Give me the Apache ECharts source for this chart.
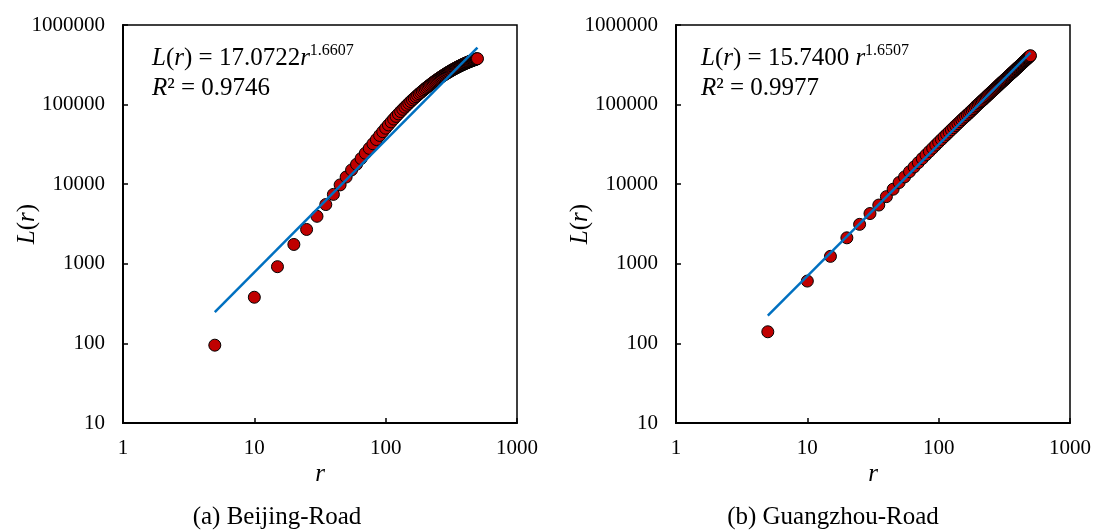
<!DOCTYPE html>
<html>
<head>
<meta charset="utf-8">
<script src="https://cdn.jsdelivr.net/npm/echarts@6/dist/echarts.min.js"></script>
<style>
html, body { margin: 0; padding: 0; background: #fff; }
#chart { width: 1094px; height: 531px; }
</style>
</head>
<body>
<div id="chart"></div>
<script>
// r 取值 (步长 5)
const radius = [5,10,15,20,25,30,35,40,45,50,55,60,65,70,75,80,85,90,95,100,
  105,110,115,120,125,130,135,140,145,150,155,160,165,170,175,180,185,190,195,200,
  205,210,215,220,225,230,235,240,245,250,255,260,265,270,275,280,285,290,295,300,
  305,310,315,320,325,330,335,340,345,350,355,360,365,370,375,380,385,390,395,400,
  405,410,415,420,425,430,435,440,445,450,455,460,465,470,475,480,485,490,495,500];

// (a) Beijing-Road
const beijingL = [95,380,920,1750,2700,3950,5550,7450,9800,12300,15100,17800,21000,24500,28200,32200,36400,41000,45700,50500,
  55500,60600,65800,71100,76400,81800,87200,92700,98200,103700,109300,114800,120300,125800,131300,136800,142200,147700,153100,158500,
  163800,169000,174300,179500,184600,189700,194700,199700,204600,209400,214200,218900,223600,228200,232800,237300,241700,246100,250400,254700,
  258900,263000,267100,271100,275000,278900,282700,286500,290200,293800,297400,300900,304400,307800,311100,314400,317600,320800,323900,327000,
  330000,333000,335900,338700,341500,344300,347000,349600,352200,354800,357300,359800,362200,364500,366800,369100,371300,373500,375600,377700];

// (b) Guangzhou-Road
const guangzhouL = [140,607,1240,2120,3130,4280,5470,6980,8650,10500,12350,14360,16470,18650,20960,23360,25810,28370,31010,33770,
  36510,39330,42230,45200,48250,51340,54510,57750,61060,64440,67700,71020,74370,77950,81580,85270,89000,93000,97100,101200,
  104950,108700,112500,116600,120700,124900,129100,133400,137700,142000,146400,150800,155300,159700,164300,169300,173900,178500,183600,188400,
  193100,198000,202800,207600,212500,217400,222900,227900,233400,238500,243600,248700,253900,259000,264200,270100,275300,281200,286500,292500,
  297900,303300,308700,314900,320400,326600,332100,338400,344000,350400,356000,362500,368200,374700,380400,387100,392900,399600,405500,411400];

// 幂函数拟合线端点
const fitR = [5, 500];
const beijingFit = [247, 518000];
const guangzhouFit = [224, 449000];

// 坐标轴刻度
const xTicks = [1, 10, 100, 1000];
const yTicks = [10, 100, 1000, 10000, 100000, 1000000];

const serif = 'Liberation Serif';
const chart = echarts.init(document.getElementById('chart'));

function pairs(xs, ys) {
  return xs.map((x, i) => [x, ys[i]]);
}

function makeX(idx) {
  return {
    type: 'log',
    logBase: 10,
    gridIndex: idx,
    min: xTicks[0],
    max: xTicks[xTicks.length - 1],
    name: 'r',
    nameLocation: 'middle',
    nameGap: 39,
    nameMoveOverlap: false,
    nameTextStyle: { fontFamily: serif, fontSize: 25, fontStyle: 'italic', color: '#000' },
    axisLine: { lineStyle: { color: '#000', width: 2 } },
    axisTick: { inside: true, length: 5, lineStyle: { color: '#000', width: 1.5 } },
    axisLabel: { fontFamily: serif, fontSize: 21, color: '#000', margin: 15,
      formatter: v => String(Math.round(v)) },
    splitLine: { show: false }
  };
}

function makeY(idx) {
  return {
    type: 'log',
    logBase: 10,
    gridIndex: idx,
    min: yTicks[0],
    max: yTicks[yTicks.length - 1],
    name: '{i|L}({i|r})',
    nameLocation: 'middle',
    nameGap: 83,
    nameMoveOverlap: false,
    nameTextStyle: {
      fontFamily: serif, fontSize: 25, color: '#000',
      rich: { i: { fontFamily: serif, fontSize: 25, fontStyle: 'italic', color: '#000' } }
    },
    axisLine: { lineStyle: { color: '#000', width: 2 } },
    axisTick: { inside: true, length: 5, lineStyle: { color: '#000', width: 1.5 } },
    axisLabel: { fontFamily: serif, fontSize: 21, color: '#000', margin: 18,
      formatter: v => String(Math.round(v)) },
    splitLine: { show: false }
  };
}

function dots(idx, ys) {
  return {
    type: 'scatter',
    xAxisIndex: idx,
    yAxisIndex: idx,
    data: pairs(radius, ys),
    symbolSize: 12,
    itemStyle: { color: '#C00000', borderColor: '#000', borderWidth: 1, opacity: 1 },
    z: 2
  };
}

function fitLine(idx, ys) {
  return {
    type: 'line',
    xAxisIndex: idx,
    yAxisIndex: idx,
    data: pairs(fitR, ys),
    showSymbol: false,
    lineStyle: { color: '#0070C0', width: 2.5 },
    z: 3
  };
}

const rich = {
  i: { fontFamily: serif, fontSize: 25, fontStyle: 'italic', fill: '#000', lineHeight: 30 },
  n: { fontFamily: serif, fontSize: 25, fill: '#000', lineHeight: 30 },
  sup: { fontFamily: serif, fontSize: 16, fill: '#000', lineHeight: 16, verticalAlign: 'top' }
};

function note(x, y, text) {
  return {
    type: 'text', x: x, y: y, z: 10,
    style: { text: text, rich: rich, fontFamily: serif, fontSize: 25, fill: '#000' }
  };
}

function caption(x, text) {
  return {
    type: 'text', x: x, y: 517, z: 10,
    style: { text: text, fontFamily: serif, fontSize: 25, fill: '#000',
      align: 'center', verticalAlign: 'middle' }
  };
}

const option = {
  backgroundColor: '#fff',
  animation: false,
  grid: [
    { left: 123, top: 25, width: 394, height: 398, show: true, borderColor: '#000', borderWidth: 1.5 },
    { left: 676, top: 25, width: 395, height: 398, show: true, borderColor: '#000', borderWidth: 1.5 }
  ],
  xAxis: [makeX(0), makeX(1)],
  yAxis: [makeY(0), makeY(1)],
  series: [
    dots(0, beijingL),
    fitLine(0, beijingFit),
    dots(1, guangzhouL),
    fitLine(1, guangzhouFit)
  ],
  graphic: [
    note(152, 43, '{i|L}{n|(}{i|r}{n|) = 17.0722}{i|r}{sup|1.6607}'),
    note(152, 73, '{i|R}{n|² = 0.9746}'),
    note(701, 43, '{i|L}{n|(}{i|r}{n|) = 15.7400 }{i|r}{sup|1.6507}'),
    note(701, 73, '{i|R}{n|² = 0.9977}'),
    caption(277, '(a) Beijing-Road'),
    caption(833, '(b) Guangzhou-Road')
  ]
};

chart.setOption(option);
</script>
</body>
</html>
